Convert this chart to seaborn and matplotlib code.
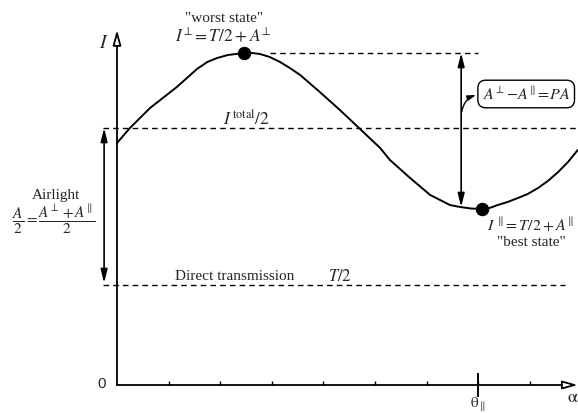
"""
Polarization diagram: intensity I versus polarizer angle alpha,
with worst/best states, airlight and direct transmission levels.
"""

import matplotlib
matplotlib.use("Agg")
import matplotlib.pyplot as plt
import pandas as pd
import seaborn as sns

# Curve (alpha in tick units, I in units of T/2)
alpha = [0.00, 0.25, 0.64, 1.16, 1.55, 1.75, 1.94, 2.15, 2.46, 2.62, 2.77,
         2.96, 3.16, 3.35, 3.55, 3.93, 4.32, 4.71, 5.10, 5.29, 5.68, 6.07,
         6.30, 6.45, 6.65, 6.86, 7.07, 7.22, 7.38, 7.57, 7.77, 7.96, 8.16,
         8.35, 8.55, 8.74, 8.93]
intensity = [2.42, 2.57, 2.77, 2.98, 3.16, 3.23, 3.27, 3.30, 3.32, 3.32, 3.31,
             3.28, 3.23, 3.17, 3.10, 2.93, 2.75, 2.56, 2.37, 2.25, 2.07, 1.90,
             1.84, 1.80, 1.78, 1.765, 1.76, 1.77, 1.80, 1.83, 1.87, 1.91, 1.97,
             2.04, 2.13, 2.23, 2.35]

# Key states
state_alpha = [2.46, 7.07]
state_I = [3.32, 1.76]

# Reference levels
I_worst = 3.32
I_half_total = 2.57
T_half = 1.00
I_best = 1.76

alpha_ticks = [1, 2, 3, 4, 5, 6, 7, 8]
theta_par = 7

sns.set_theme(style="white")
plt.rcParams["mathtext.fontset"] = "stix"
plt.rcParams["font.family"] = ["Liberation Serif", "DejaVu Serif"]

fig = plt.figure(figsize=(5.78, 4.13), dpi=100)
ax = fig.add_axes([0, 0, 1, 1])
ax.set_xlim(-117 / 51.6, 461 / 51.6)
ax.set_ylim(-0.28, 3.85)
ax.axis("off")

# Curve and dots
df = pd.DataFrame({"alpha": alpha, "I": intensity})
sns.lineplot(data=df, x="alpha", y="I", sort=False, color="black", lw=1.4, ax=ax)
sns.scatterplot(x=state_alpha, y=state_I, color="black", s=80, edgecolor="black",
                zorder=5, ax=ax)

# Axes with open arrow heads
open_head = dict(arrowstyle="-|>,head_length=0.9,head_width=0.25", fc="white",
                 ec="black", lw=1.3, shrinkA=0, shrinkB=0, mutation_scale=10)
ax.annotate("", xy=(0, 3.55), xytext=(0, 0), arrowprops=open_head)
ax.annotate("", xy=(8.93, 0), xytext=(0, 0), arrowprops=open_head)

# Ticks on alpha axis
ax.vlines(alpha_ticks, 0, 0.04, color="black", lw=1)
ax.vlines([theta_par], -0.12, 0.12, color="black", lw=1.4)

# Dashed reference levels
dash = dict(color="black", lw=1, ls=(0, (4, 3)))
ax.plot([2.97, 7.0], [I_worst, I_worst], **dash)
ax.plot([-0.27, 8.93], [I_half_total, I_half_total], **dash)
ax.plot([-0.27, 8.68], [T_half, T_half], **dash)

# Double arrows
dbl = dict(arrowstyle="<|-|>,head_length=0.8,head_width=0.2", fc="black",
           ec="black", lw=1.2, shrinkA=0, shrinkB=0, mutation_scale=10)
ax.annotate("", xy=(-0.25, T_half + 0.02), xytext=(-0.25, I_half_total), arrowprops=dbl)
ax.annotate("", xy=(6.67, I_best + 0.02), xytext=(6.67, I_worst), arrowprops=dbl)

# Label box with pointer
ax.annotate("", xy=(6.96, 2.90), xytext=(6.68, 2.73),
            arrowprops=dict(arrowstyle="-|>,head_length=0.5,head_width=0.15",
                            color="black", lw=1, connectionstyle="arc3,rad=-0.3",
                            shrinkA=0, shrinkB=0, mutation_scale=10))
ax.text(7.93, 2.91, r"$A^{\!\perp}\!-\!A^{\!\parallel}\!=\!PA$", ha="center", va="center",
        fontsize=11.5,
        bbox=dict(boxstyle="round,pad=0.3,rounding_size=0.5", fc="white", ec="black", lw=1))

# Texts
ax.text(2.07, 3.67, '"worst state"', ha="center", va="center", fontsize=11)
ax.text(2.07, 3.48, r"$I^{\!\perp}\!=T/2+A^{\!\perp}$", ha="center", va="center", fontsize=12.5)
ax.text(2.50, 2.66, r"$I^{\,\mathrm{total}}/2$", ha="center", va="center", fontsize=12.5)
ax.text(-0.25, 3.41, r"$I$", ha="center", va="center", fontsize=14)
ax.text(-1.18, 1.90, "Airlight", ha="center", va="center", fontsize=11)
ax.text(-1.22, 1.66, r"$\dfrac{A}{2}=\dfrac{A^{\!\perp}+A^{\!\parallel}}{2}$",
        ha="center", va="center", fontsize=11)
ax.text(2.29, 1.08, "Direct transmission", ha="center", va="center", fontsize=11)
ax.text(4.32, 1.08, r"$T/2$", ha="center", va="center", fontsize=12)
ax.text(8.02, 1.60, r"$I^{\,\parallel}\!=T/2+A^{\!\parallel}$", ha="center", va="center", fontsize=11.5)
ax.text(8.04, 1.42, '"best state"', ha="center", va="center", fontsize=11)
ax.text(-0.29, 0.01, "0", ha="center", va="center", fontsize=11, family="Liberation Sans")
ax.text(theta_par, -0.20, r"$\mathrm{\theta}_{\parallel}$", ha="center", va="center", fontsize=11)
ax.text(8.84, -0.12, r"$\mathrm{\alpha}$", ha="center", va="center", fontsize=13)

fig.savefig("out.png", dpi=100)
plt.close(fig)
